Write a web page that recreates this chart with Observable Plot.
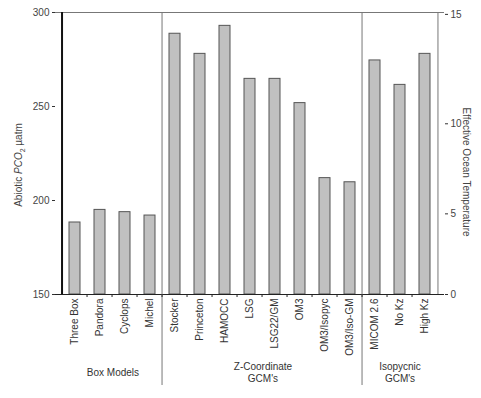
<!DOCTYPE html>
<html>
<head>
<meta charset="utf-8">
<script src="https://cdn.jsdelivr.net/npm/d3@7"></script>
<script src="https://cdn.jsdelivr.net/npm/@observablehq/plot@0.6"></script>
<style>
  html, body { margin: 0; padding: 0; background: #fff; }
  svg { font-family: "Liberation Sans", Arial, sans-serif; }
</style>
</head>
<body>
<div id="chart"></div>
<script>
const models = ["Three Box", "Pandora", "Cyclops", "Michel", "Stocker", "Princeton", "HAMOCC", "LSG", "LSG22/GM", "OM3", "OM3/Isopyc", "OM3/Iso-GM", "MICOM 2.6", "No Kz", "High Kz"];
const pco2 = [188.3, 195, 193.8, 192, 288.7, 278, 292.9, 264.7, 264.7, 251.8, 211.9, 209.7, 274.5, 261.5, 278];
const groupNames = ["Box Models", "Z-Coordinate\nGCM's", "Isopycnic\nGCM's"];
const groupFirst = ["Three Box", "Stocker", "MICOM 2.6"];
const groupCenter = ["Pandora", "LSG", "No Kz"];
const groupBetween = [true, true, false]; // label centred between this category and the next
const leftTicks = [150, 200, 250, 300];
const tempLabels = [0, 5, 10, 15];
const tempTickPco2 = [150, 192.9, 240.8, 299];

const W = 481, H = 398;
const mL = 55, mR = 37, mT = 12, mB = 104;
const step = (W - mL - mR) / models.length;

const data = models.map((m, i) => ({model: m, pco2: pco2[i]}));
const groups = groupNames.map((g, i) => ({name: g, first: groupFirst[i], center: groupCenter[i], between: groupBetween[i]}));

const chart = Plot.plot({
  width: W,
  height: H,
  marginLeft: mL,
  marginRight: mR,
  marginTop: mT,
  marginBottom: mB,
  style: {fontFamily: "Liberation Sans, Arial, sans-serif", fontSize: "10px", color: "#333"},
  x: {type: "band", domain: models, padding: 0, axis: null},
  y: {domain: [150, 300], axis: null},
  marks: [
    Plot.barY(data, {x: "model", y1: 150, y2: "pco2", fill: "#c0c0c0", stroke: "#555", strokeWidth: 1, insetLeft: 7, insetRight: 7}),
    // frame
    Plot.ruleY([300], {stroke: "#777"}),
    Plot.ruleX([models[models.length - 1]], {stroke: "#777", dx: step / 2}),
    Plot.ruleX([models[0]], {stroke: "#111", strokeWidth: 2, dx: -step / 2}),
    Plot.ruleY([150], {stroke: "#222"}),
    // group separators
    Plot.ruleX(groups.slice(1), {x: "first", dx: -step / 2, stroke: "#777", insetBottom: -91}),
    // boundary ticks
    Plot.axisX(models.slice(1), {tickSize: 3, text: null, dx: -step / 2, stroke: "#222"}),
    Plot.axisX({tickSize: 0, tickPadding: 4, tickRotate: -90, label: null, fill: "#333", fontSize: 10}),
    // left axis
    Plot.axisY(leftTicks, {anchor: "left", tickSize: 3, tickPadding: 3, label: null, fill: "#444", fontSize: 10}),
    // right axis (nonlinear temperature)
    Plot.axisY(tempTickPco2, {anchor: "right", tickSize: 3, tickPadding: 3, label: null, fill: "#444", fontSize: 10,
      tickFormat: d => String(tempLabels[tempTickPco2.indexOf(d)])}),
    // group labels
    Plot.text(groups.filter(g => g.between), {x: "center", text: "name", frameAnchor: "bottom", dy: 78, dx: step / 2, lineAnchor: "middle", lineHeight: 1.2, fill: "#333", fontSize: 10}),
    Plot.text(groups.filter(g => !g.between), {x: "center", text: "name", frameAnchor: "bottom", dy: 78, lineAnchor: "middle", lineHeight: 1.2, fill: "#333", fontSize: 10}),
  ]
});

document.getElementById("chart").appendChild(chart);

// axis titles with italic / subscript
const svg = d3.select(chart);
const lt = svg.append("text")
  .attr("transform", `translate(22,${165}) rotate(-90)`)
  .attr("text-anchor", "middle")
  .attr("fill", "#444")
  .style("font-size", "10px");
lt.append("tspan").text("Abiotic ");
lt.append("tspan").attr("font-style", "italic").text("PCO");
lt.append("tspan").attr("font-size", "7px").attr("dy", 3).text("2");
lt.append("tspan").attr("dy", -3).text(" µatm");

svg.append("text")
  .attr("transform", `translate(463,${172}) rotate(90)`)
  .attr("text-anchor", "middle")
  .attr("fill", "#444")
  .style("font-size", "10px")
  .text("Effective Ocean Temperature");
</script>
</body>
</html>
